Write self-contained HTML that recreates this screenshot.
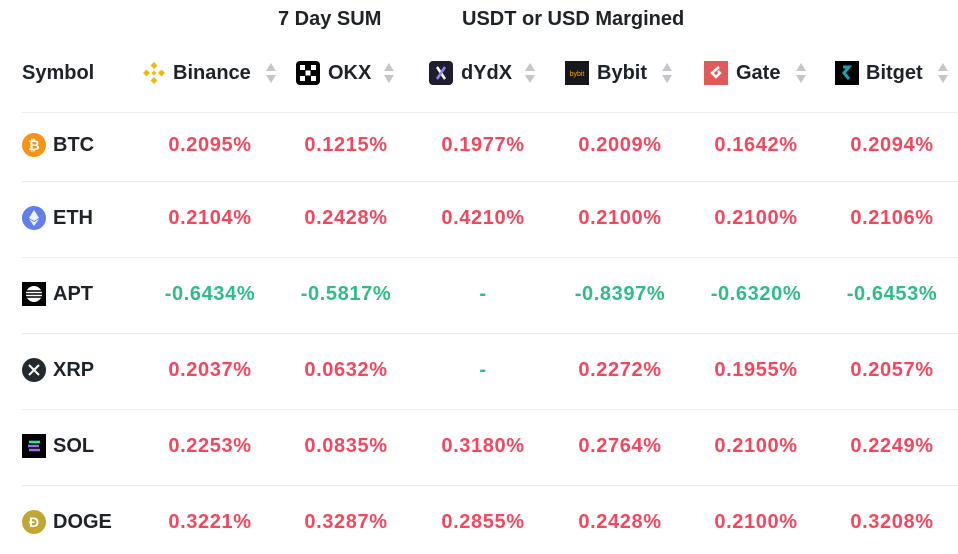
<!DOCTYPE html>
<html><head><meta charset="utf-8"><style>
body{margin:0;width:958px;height:554px;background:#fff;font-family:"Liberation Sans","DejaVu Sans",sans-serif;overflow:hidden;position:relative;color:#1e2329}
.a{position:absolute;white-space:nowrap}
.t{font-size:20px;font-weight:bold;line-height:24px}
.line{position:absolute;left:22px;width:936px;height:1px;background:#eaecef}
.ic{position:absolute;width:24px;height:24px;border-radius:3px}
.v{position:absolute;font-size:20px;font-weight:bold;line-height:24px;width:140px;text-align:center;letter-spacing:0.6px}
.sort{position:absolute;width:12px;height:22px}
</style></head><body>
<div class="a t" style="left:278px;top:7px">7 Day SUM</div>
<div class="a t" style="left:462px;top:7px">USDT or USD Margined</div>
<div class="a t" style="left:22px;top:61px">Symbol</div>
<div id="root"></div>
<script>
const exchanges=["Binance","OKX","dYdX","Bybit","Gate","Bitget"];
const symbols=["BTC","ETH","APT","XRP","SOL","DOGE"];
const binance=[0.2095,0.2104,-0.6434,0.2037,0.2253,0.3221];
const okx=[0.1215,0.2428,-0.5817,0.0632,0.0835,0.3287];
const dydx=[0.1977,0.4210,null,null,0.3180,0.2855];
const bybit=[0.2009,0.2100,-0.8397,0.2272,0.2764,0.2428];
const gate=[0.1642,0.2100,-0.6320,0.1955,0.2100,0.2100];
const bitget=[0.2094,0.2106,-0.6453,0.2057,0.2249,0.3208];
const series=[binance,okx,dydx,bybit,gate,bitget];
const iconX=[142,296,429,565,704,835], textX=[173,328,461,597,736,866], sortX=[265,383,524,661,795,937], colC=[210,346,483,620,756,892];
const iconStyle=[
 '<svg width="24" height="24" viewBox="0 0 24 24"><g fill="#f0b90b"><path d="M12 1l3.5 3.5-3.5 3.5-3.5-3.5z"/><path d="M12 16l3.5 3.5-3.5 3.5-3.5-3.5z"/><path d="M1 12l3.5-3.5 3.5 3.5-3.5 3.5z"/><path d="M16 12l3.5-3.5 3.5 3.5-3.5 3.5z"/><path d="M12 9.5l2.5 2.5-2.5 2.5-2.5-2.5z"/></g></svg>',
 '<svg width="24" height="24"><rect width="24" height="24" rx="4" fill="#000"/><g fill="#fff"><rect x="4" y="4" width="5" height="5"/><rect x="15" y="4" width="5" height="5"/><rect x="9.5" y="9.5" width="5" height="5"/><rect x="4" y="15" width="5" height="5"/><rect x="15" y="15" width="5" height="5"/></g></svg>',
 '<svg width="24" height="24"><rect width="24" height="24" rx="4" fill="#1f1e2e"/><path d="M8 6l8 12" stroke="#fff" stroke-width="2.5"/><path d="M16 6L8 18" stroke="#8d84ff" stroke-width="2.5"/></svg>',
 '<svg width="24" height="24"><rect width="24" height="24" fill="#17181e"/><text x="12" y="15" font-size="7" fill="#f7a600" text-anchor="middle" font-family="Liberation Sans">bybit</text></svg>',
 '<svg width="24" height="24"><rect width="24" height="24" fill="#e05a5a"/><path d="M15 6l-7 6 4 4 4-4-2-2" stroke="#fff" stroke-width="2.5" fill="none"/></svg>',
 '<svg width="24" height="24"><rect width="24" height="24" fill="#000"/><path d="M8 6h6l-5 6 5 6" stroke="#1da2b4" stroke-width="3" fill="none"/></svg>'];
function add(html,name,inter){const d=document.createElement('div');d.innerHTML=html;const el=d.firstChild;


document.body.appendChild(el);return el;}
exchanges.forEach((e,i)=>{
 add('<div class="ic" style="left:'+iconX[i]+'px;top:61px">'+iconStyle[i]+'</div>',e.toLowerCase()+'-logo','false');
 add('<div class="a t" style="left:'+textX[i]+'px;top:61px">'+e+'</div>',e.toLowerCase()+'-header','true');
 add('<svg class="sort" style="left:'+sortX[i]+'px;top:62px" viewBox="0 0 12 22"><path d="M6 1l5 8H1z" fill="#c4c6ca"/><path d="M6 21l5-8H1z" fill="#c4c6ca"/></svg>',e.toLowerCase()+'-sort-toggle','true');
});
const rowY=[145,218,294,370,446,522], lineY=[112,181,257,333,409,485];
lineY.forEach((y,i)=>add('<div class="line" style="top:'+y+'px"></div>','row-divider-'+(i+1),'false'));
const coinIcons=[
 '<svg width="24" height="24"><circle cx="12" cy="12" r="12" fill="#f7931a"/><text x="12" y="17" font-size="14" font-weight="bold" fill="#fff" text-anchor="middle" font-family="Liberation Sans">₿</text></svg>',
 '<svg width="24" height="24"><circle cx="12" cy="12" r="12" fill="#627eea"/><path d="M12 4l5 8-5 3-5-3zM12 16l5-3-5 7-5-7z" fill="#fff" opacity=".9"/></svg>',
 '<svg width="24" height="24"><rect width="24" height="24" fill="#000"/><circle cx="12" cy="12" r="8" fill="#fff"/><g stroke="#000" stroke-width="1.4"><path d="M3 9h18M3 12h18M3 15h18"/></g></svg>',
 '<svg width="24" height="24"><circle cx="12" cy="12" r="12" fill="#23292f"/><path d="M7 7l10 10M17 7L7 17" stroke="#fff" stroke-width="2"/></svg>',
 '<svg width="24" height="24"><rect width="24" height="24" fill="#000"/><path d="M7 8h11M6 12h11M7 16h11" stroke="#9b6ff0" stroke-width="2.4"/><path d="M7 8h11" stroke="#14f195" stroke-width="2.4"/></svg>',
 '<svg width="24" height="24"><circle cx="12" cy="12" r="12" fill="#c2a633"/><text x="12" y="17" font-size="14" font-weight="bold" fill="#fff" text-anchor="middle" font-family="Liberation Sans">Đ</text></svg>'];
symbols.forEach((s,r)=>{
 const y=rowY[r]-12;
 add('<div class="ic" style="left:22px;top:'+y+'px">'+coinIcons[r]+'</div>',s.toLowerCase()+'-icon','false');
 add('<div class="a t" style="left:53px;top:'+y+'px">'+s+'</div>',s.toLowerCase()+'-symbol','false');
 series.forEach((arr,c)=>{
  const v=arr[r];
  const txt=v===null?'-':v.toFixed(4)+'%';
  const col=(v===null||v<0)?'#2ebd85':'#f6465d';
  add('<div class="v" style="left:'+(colC[c]-70)+'px;top:'+y+'px;color:'+col+'">'+txt+'</div>',s.toLowerCase()+'-'+exchanges[c].toLowerCase()+'-value','false');
 });
});
</script>
</body></html>
